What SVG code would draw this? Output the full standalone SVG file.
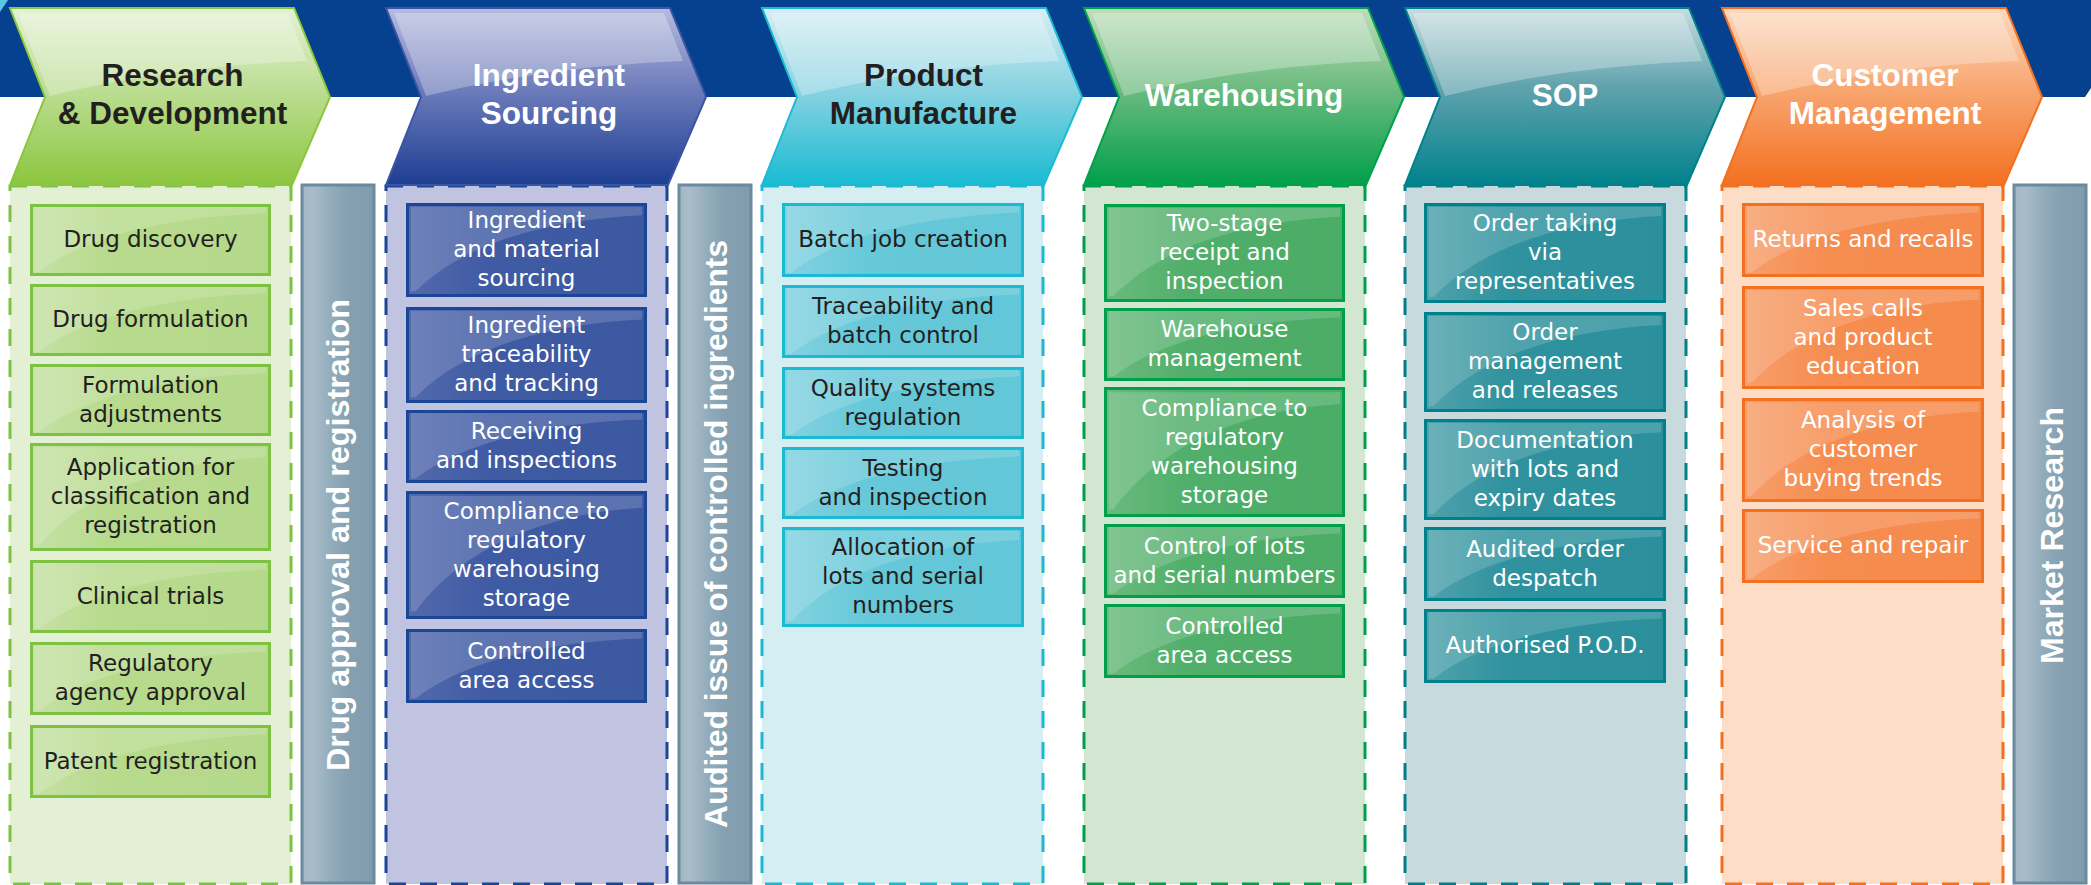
<svg xmlns="http://www.w3.org/2000/svg" xmlns:xlink="http://www.w3.org/1999/xlink" width="2091" height="885" viewBox="0 0 2091 885">
<defs>
<style>
.band{fill:#05418E}
.pan{stroke-width:3;stroke-dasharray:17 14}
.chev{stroke-width:2}
.bx{stroke-width:3}
.bt{font-family:"DejaVu Sans","Liberation Sans",sans-serif;font-size:23px;text-anchor:middle}
.tt{font-family:"Liberation Sans",Arial,sans-serif;font-weight:bold;font-size:31.5px;text-anchor:middle}
.vt{font-family:"Liberation Sans",Arial,sans-serif;font-weight:bold;font-size:32px;fill:#fff;text-anchor:middle}
.dk{fill:#231F20}
.wt{fill:#fff}
.bar{fill:url(#gbar);stroke:#6A8A9E;stroke-width:3}
</style>
<linearGradient id="g1c" x1="0" y1="0" x2="0" y2="1"><stop offset="0" stop-color="#E4F1D5"/><stop offset="0.45" stop-color="#BDDE95"/><stop offset="1" stop-color="#8CC63F"/></linearGradient>
<linearGradient id="g2c" x1="0" y1="0" x2="0" y2="1"><stop offset="0" stop-color="#B6BBDE"/><stop offset="0.45" stop-color="#6E7DBB"/><stop offset="1" stop-color="#1D3E92"/></linearGradient>
<linearGradient id="g3c" x1="0" y1="0" x2="0" y2="1"><stop offset="0" stop-color="#D6EEF3"/><stop offset="0.45" stop-color="#8BD3E2"/><stop offset="1" stop-color="#19BBD2"/></linearGradient>
<linearGradient id="g4c" x1="0" y1="0" x2="0" y2="1"><stop offset="0" stop-color="#BEDDBA"/><stop offset="0.45" stop-color="#6DBB7F"/><stop offset="1" stop-color="#009F4B"/></linearGradient>
<linearGradient id="g5c" x1="0" y1="0" x2="0" y2="1"><stop offset="0" stop-color="#C7DCE0"/><stop offset="0.45" stop-color="#5FA2AD"/><stop offset="1" stop-color="#00828C"/></linearGradient>
<linearGradient id="g6c" x1="0" y1="0" x2="0" y2="1"><stop offset="0" stop-color="#FDD9BE"/><stop offset="0.45" stop-color="#F8A771"/><stop offset="1" stop-color="#F37021"/></linearGradient>
<linearGradient id="g1b" x1="0" y1="0" x2="1" y2="0"><stop offset="0" stop-color="#C6E1A4"/><stop offset="0.35" stop-color="#B7DA8C"/><stop offset="1" stop-color="#B5D98A"/></linearGradient>
<linearGradient id="g2b" x1="0" y1="0" x2="1" y2="0"><stop offset="0" stop-color="#5369AD"/><stop offset="0.35" stop-color="#3F5BA3"/><stop offset="1" stop-color="#3C58A1"/></linearGradient>
<linearGradient id="g3b" x1="0" y1="0" x2="1" y2="0"><stop offset="0" stop-color="#84D2E0"/><stop offset="0.35" stop-color="#66C8D9"/><stop offset="1" stop-color="#62C7D8"/></linearGradient>
<linearGradient id="g4b" x1="0" y1="0" x2="1" y2="0"><stop offset="0" stop-color="#6BBA7E"/><stop offset="0.35" stop-color="#50AF6A"/><stop offset="1" stop-color="#4BAC66"/></linearGradient>
<linearGradient id="g5b" x1="0" y1="0" x2="1" y2="0"><stop offset="0" stop-color="#50A2AC"/><stop offset="0.35" stop-color="#2F929E"/><stop offset="1" stop-color="#2B909C"/></linearGradient>
<linearGradient id="g6b" x1="0" y1="0" x2="1" y2="0"><stop offset="0" stop-color="#F79F6C"/><stop offset="0.35" stop-color="#F68D50"/><stop offset="1" stop-color="#F58A4C"/></linearGradient>
<linearGradient id="gbar" x1="0" y1="0" x2="1" y2="0"><stop offset="0" stop-color="#A2B7C4"/><stop offset="0.15" stop-color="#A9BDC9"/><stop offset="0.4" stop-color="#93ACBB"/><stop offset="0.65" stop-color="#84A0B1"/><stop offset="1" stop-color="#809CAE"/></linearGradient>
<symbol id="cg" viewBox="0 0 320 177" preserveAspectRatio="none"><path d="M8,5 L278,5 L297,53 Q160,58 40,88 Z" fill="#fff" opacity="0.28"/></symbol>
<symbol id="bg" viewBox="0 0 100 100" preserveAspectRatio="none"><path d="M2,4 H98 V13 C62,17 25,40 4,94 L2,94 Z" fill="#fff" opacity="0.16"/></symbol>
</defs>

<g id="band">
<polygon class="band" points="0,0 2091,0 2091,88 2085,97 0,97"/>
<polygon points="0,0 8,0 0,12" fill="#5BC5E9"/>
</g>

<g id="panels">
<rect class="pan" x="10" y="186" width="281" height="698" fill="#E3F0D4" stroke="#7DC242"/>
<rect class="pan" x="386" y="186" width="281" height="698" fill="#C1C4E1" stroke="#1B4595"/>
<rect class="pan" x="762" y="186" width="281" height="698" fill="#D5EEF1" stroke="#1BB9D1"/>
<rect class="pan" x="1084" y="186" width="281" height="698" fill="#D3E6D2" stroke="#00A04B"/>
<rect class="pan" x="1405" y="186" width="281" height="698" fill="#C8DADD" stroke="#007F89"/>
<rect class="pan" x="1722" y="186" width="281" height="698" fill="#FDDDC5" stroke="#F37021"/>
</g>

<g id="bar-drug-approval">
<rect class="bar" x="302" y="185" width="72" height="698"/>
<text class="vt" transform="translate(349,535) rotate(-90)" textLength="472" lengthAdjust="spacingAndGlyphs">Drug approval and registration</text>
</g>
<g id="bar-audited-issue">
<rect class="bar" x="679" y="185" width="72" height="698"/>
<text class="vt" transform="translate(727,534) rotate(-90)" textLength="588" lengthAdjust="spacingAndGlyphs">Audited issue of controlled ingredients</text>
</g>
<g id="bar-market-research">
<rect class="bar" x="2014" y="185" width="72" height="698"/>
<text class="vt" transform="translate(2063,535.5) rotate(-90)" textLength="257" lengthAdjust="spacingAndGlyphs">Market Research</text>
</g>

<g id="head-rd">
<polygon class="chev" points="10,8 294,8 330,97 292,185 10,185 45,97" fill="url(#g1c)" stroke="#8CC63F"/>
<use xlink:href="#cg" x="10" y="8" width="320" height="177"/>
<text class="tt dk" x="172.5" y="86">Research</text>
<text class="tt dk" x="172.5" y="124">&amp; Development</text>
</g>
<g id="head-ingredient">
<polygon class="chev" points="386,8 670,8 706,97 668,185 386,185 421,97" fill="url(#g2c)" stroke="#3A55A4"/>
<use xlink:href="#cg" x="386" y="8" width="320" height="177"/>
<text class="tt wt" x="549" y="86">Ingredient</text>
<text class="tt wt" x="549" y="124">Sourcing</text>
</g>
<g id="head-product">
<polygon class="chev" points="762,8 1046,8 1082,97 1044,185 762,185 797,97" fill="url(#g3c)" stroke="#1DBBD3"/>
<use xlink:href="#cg" x="762" y="8" width="320" height="177"/>
<text class="tt dk" x="923.5" y="86">Product</text>
<text class="tt dk" x="923.5" y="124">Manufacture</text>
</g>
<g id="head-warehousing">
<polygon class="chev" points="1084,8 1368,8 1404,97 1366,185 1084,185 1119,97" fill="url(#g4c)" stroke="#00A14B"/>
<use xlink:href="#cg" x="1084" y="8" width="320" height="177"/>
<text class="tt wt" x="1244" y="106">Warehousing</text>
</g>
<g id="head-sop">
<polygon class="chev" points="1405,8 1689,8 1725,97 1687,185 1405,185 1440,97" fill="url(#g5c)" stroke="#00818B"/>
<use xlink:href="#cg" x="1405" y="8" width="320" height="177"/>
<text class="tt wt" x="1565" y="106">SOP</text>
</g>
<g id="head-customer">
<polygon class="chev" points="1722,8 2006,8 2042,97 2004,185 1722,185 1757,97" fill="url(#g6c)" stroke="#F37021"/>
<use xlink:href="#cg" x="1722" y="8" width="320" height="177"/>
<text class="tt wt" x="1885" y="86">Customer</text>
<text class="tt wt" x="1885" y="124">Management</text>
</g>

<!-- Column 1 boxes -->
<g id="rd-1"><rect class="bx" x="31.5" y="205.5" width="238" height="69" fill="url(#g1b)" stroke="#7DC242"/><use xlink:href="#bg" x="30" y="204" width="241" height="72"/><text class="bt dk" x="150.5" y="247">Drug discovery</text></g>
<g id="rd-2"><rect class="bx" x="31.5" y="285.5" width="238" height="69" fill="url(#g1b)" stroke="#7DC242"/><use xlink:href="#bg" x="30" y="284" width="241" height="72"/><text class="bt dk" x="150.5" y="327">Drug formulation</text></g>
<g id="rd-3"><rect class="bx" x="31.5" y="365.5" width="238" height="69" fill="url(#g1b)" stroke="#7DC242"/><use xlink:href="#bg" x="30" y="364" width="241" height="72"/><text class="bt dk" x="150.5" y="392.5">Formulation<tspan x="150.5" dy="29">adjustments</tspan></text></g>
<g id="rd-4"><rect class="bx" x="31.5" y="444.5" width="238" height="105" fill="url(#g1b)" stroke="#7DC242"/><use xlink:href="#bg" x="30" y="443" width="241" height="108"/><text class="bt dk" x="150.5" y="475">Application for<tspan x="150.5" dy="29">classification and</tspan><tspan x="150.5" dy="29">registration</tspan></text></g>
<g id="rd-5"><rect class="bx" x="31.5" y="561.5" width="238" height="70" fill="url(#g1b)" stroke="#7DC242"/><use xlink:href="#bg" x="30" y="560" width="241" height="73"/><text class="bt dk" x="150.5" y="603.5">Clinical trials</text></g>
<g id="rd-6"><rect class="bx" x="31.5" y="643.5" width="238" height="70" fill="url(#g1b)" stroke="#7DC242"/><use xlink:href="#bg" x="30" y="642" width="241" height="73"/><text class="bt dk" x="150.5" y="671">Regulatory<tspan x="150.5" dy="29">agency approval</tspan></text></g>
<g id="rd-7"><rect class="bx" x="31.5" y="726.5" width="238" height="70" fill="url(#g1b)" stroke="#7DC242"/><use xlink:href="#bg" x="30" y="725" width="241" height="73"/><text class="bt dk" x="150.5" y="768.5">Patent registration</text></g>

<!-- Column 2 boxes -->
<g id="is-1"><rect class="bx" x="407.5" y="204.5" width="238" height="91" fill="url(#g2b)" stroke="#1B4595"/><use xlink:href="#bg" x="406" y="203" width="241" height="94"/><text class="bt wt" x="526.5" y="228">Ingredient<tspan x="526.5" dy="29">and material</tspan><tspan x="526.5" dy="29">sourcing</tspan></text></g>
<g id="is-2"><rect class="bx" x="407.5" y="308.5" width="238" height="93" fill="url(#g2b)" stroke="#1B4595"/><use xlink:href="#bg" x="406" y="307" width="241" height="96"/><text class="bt wt" x="526.5" y="333">Ingredient<tspan x="526.5" dy="29">traceability</tspan><tspan x="526.5" dy="29">and tracking</tspan></text></g>
<g id="is-3"><rect class="bx" x="407.5" y="411.5" width="238" height="70" fill="url(#g2b)" stroke="#1B4595"/><use xlink:href="#bg" x="406" y="410" width="241" height="73"/><text class="bt wt" x="526.5" y="439">Receiving<tspan x="526.5" dy="29">and inspections</tspan></text></g>
<g id="is-4"><rect class="bx" x="407.5" y="492.5" width="238" height="125" fill="url(#g2b)" stroke="#1B4595"/><use xlink:href="#bg" x="406" y="491" width="241" height="128"/><text class="bt wt" x="526.5" y="518.5">Compliance to<tspan x="526.5" dy="29">regulatory</tspan><tspan x="526.5" dy="29">warehousing</tspan><tspan x="526.5" dy="29">storage</tspan></text></g>
<g id="is-5"><rect class="bx" x="407.5" y="630.5" width="238" height="71" fill="url(#g2b)" stroke="#1B4595"/><use xlink:href="#bg" x="406" y="629" width="241" height="74"/><text class="bt wt" x="526.5" y="658.5">Controlled<tspan x="526.5" dy="29">area access</tspan></text></g>

<!-- Column 3 boxes -->
<g id="pm-1"><rect class="bx" x="783.5" y="204.5" width="239" height="71" fill="url(#g3b)" stroke="#19BAD2"/><use xlink:href="#bg" x="782" y="203" width="242" height="74"/><text class="bt dk" x="903" y="247">Batch job creation</text></g>
<g id="pm-2"><rect class="bx" x="783.5" y="286.5" width="239" height="70" fill="url(#g3b)" stroke="#19BAD2"/><use xlink:href="#bg" x="782" y="285" width="242" height="73"/><text class="bt dk" x="903" y="314">Traceability and<tspan x="903" dy="29">batch control</tspan></text></g>
<g id="pm-3"><rect class="bx" x="783.5" y="368.5" width="239" height="69" fill="url(#g3b)" stroke="#19BAD2"/><use xlink:href="#bg" x="782" y="367" width="242" height="72"/><text class="bt dk" x="903" y="395.5">Quality systems<tspan x="903" dy="29">regulation</tspan></text></g>
<g id="pm-4"><rect class="bx" x="783.5" y="448.5" width="239" height="69" fill="url(#g3b)" stroke="#19BAD2"/><use xlink:href="#bg" x="782" y="447" width="242" height="72"/><text class="bt dk" x="903" y="475.5">Testing<tspan x="903" dy="29">and inspection</tspan></text></g>
<g id="pm-5"><rect class="bx" x="783.5" y="528.5" width="239" height="97" fill="url(#g3b)" stroke="#19BAD2"/><use xlink:href="#bg" x="782" y="527" width="242" height="100"/><text class="bt dk" x="903" y="555">Allocation of<tspan x="903" dy="29">lots and serial</tspan><tspan x="903" dy="29">numbers</tspan></text></g>

<!-- Column 4 boxes -->
<g id="wh-1"><rect class="bx" x="1105.5" y="205.5" width="238" height="95" fill="url(#g4b)" stroke="#00A04B"/><use xlink:href="#bg" x="1104" y="204" width="241" height="98"/><text class="bt wt" x="1224.5" y="231">Two-stage<tspan x="1224.5" dy="29">receipt and</tspan><tspan x="1224.5" dy="29">inspection</tspan></text></g>
<g id="wh-2"><rect class="bx" x="1105.5" y="309.5" width="238" height="70" fill="url(#g4b)" stroke="#00A04B"/><use xlink:href="#bg" x="1104" y="308" width="241" height="73"/><text class="bt wt" x="1224.5" y="337">Warehouse<tspan x="1224.5" dy="29">management</tspan></text></g>
<g id="wh-3"><rect class="bx" x="1105.5" y="388.5" width="238" height="127" fill="url(#g4b)" stroke="#00A04B"/><use xlink:href="#bg" x="1104" y="387" width="241" height="130"/><text class="bt wt" x="1224.5" y="415.5">Compliance to<tspan x="1224.5" dy="29">regulatory</tspan><tspan x="1224.5" dy="29">warehousing</tspan><tspan x="1224.5" dy="29">storage</tspan></text></g>
<g id="wh-4"><rect class="bx" x="1105.5" y="525.5" width="238" height="71" fill="url(#g4b)" stroke="#00A04B"/><use xlink:href="#bg" x="1104" y="524" width="241" height="74"/><text class="bt wt" x="1224.5" y="553.5">Control of lots<tspan x="1224.5" dy="29">and serial numbers</tspan></text></g>
<g id="wh-5"><rect class="bx" x="1105.5" y="605.5" width="238" height="71" fill="url(#g4b)" stroke="#00A04B"/><use xlink:href="#bg" x="1104" y="604" width="241" height="74"/><text class="bt wt" x="1224.5" y="633.5">Controlled<tspan x="1224.5" dy="29">area access</tspan></text></g>

<!-- Column 5 boxes -->
<g id="sop-1"><rect class="bx" x="1425.5" y="204.5" width="239" height="97" fill="url(#g5b)" stroke="#00808A"/><use xlink:href="#bg" x="1424" y="203" width="242" height="100"/><text class="bt wt" x="1545" y="231">Order taking<tspan x="1545" dy="29">via</tspan><tspan x="1545" dy="29">representatives</tspan></text></g>
<g id="sop-2"><rect class="bx" x="1425.5" y="313.5" width="239" height="97" fill="url(#g5b)" stroke="#00808A"/><use xlink:href="#bg" x="1424" y="312" width="242" height="100"/><text class="bt wt" x="1545" y="340">Order<tspan x="1545" dy="29">management</tspan><tspan x="1545" dy="29">and releases</tspan></text></g>
<g id="sop-3"><rect class="bx" x="1425.5" y="420.5" width="239" height="98" fill="url(#g5b)" stroke="#00808A"/><use xlink:href="#bg" x="1424" y="419" width="242" height="101"/><text class="bt wt" x="1545" y="447.5">Documentation<tspan x="1545" dy="29">with lots and</tspan><tspan x="1545" dy="29">expiry dates</tspan></text></g>
<g id="sop-4"><rect class="bx" x="1425.5" y="528.5" width="239" height="71" fill="url(#g5b)" stroke="#00808A"/><use xlink:href="#bg" x="1424" y="527" width="242" height="74"/><text class="bt wt" x="1545" y="556.5">Audited order<tspan x="1545" dy="29">despatch</tspan></text></g>
<g id="sop-5"><rect class="bx" x="1425.5" y="610.5" width="239" height="71" fill="url(#g5b)" stroke="#00808A"/><use xlink:href="#bg" x="1424" y="609" width="242" height="74"/><text class="bt wt" x="1545" y="653">Authorised P.O.D.</text></g>

<!-- Column 6 boxes -->
<g id="cm-1"><rect class="bx" x="1743.5" y="204.5" width="239" height="71" fill="url(#g6b)" stroke="#F37021"/><use xlink:href="#bg" x="1742" y="203" width="242" height="74"/><text class="bt wt" x="1863" y="247">Returns and recalls</text></g>
<g id="cm-2"><rect class="bx" x="1743.5" y="287.5" width="239" height="100" fill="url(#g6b)" stroke="#F37021"/><use xlink:href="#bg" x="1742" y="286" width="242" height="103"/><text class="bt wt" x="1863" y="315.5">Sales calls<tspan x="1863" dy="29">and product</tspan><tspan x="1863" dy="29">education</tspan></text></g>
<g id="cm-3"><rect class="bx" x="1743.5" y="399.5" width="239" height="101" fill="url(#g6b)" stroke="#F37021"/><use xlink:href="#bg" x="1742" y="398" width="242" height="104"/><text class="bt wt" x="1863" y="428">Analysis of<tspan x="1863" dy="29">customer</tspan><tspan x="1863" dy="29">buying trends</tspan></text></g>
<g id="cm-4"><rect class="bx" x="1743.5" y="510.5" width="239" height="71" fill="url(#g6b)" stroke="#F37021"/><use xlink:href="#bg" x="1742" y="509" width="242" height="74"/><text class="bt wt" x="1863" y="553">Service and repair</text></g>
</svg>
